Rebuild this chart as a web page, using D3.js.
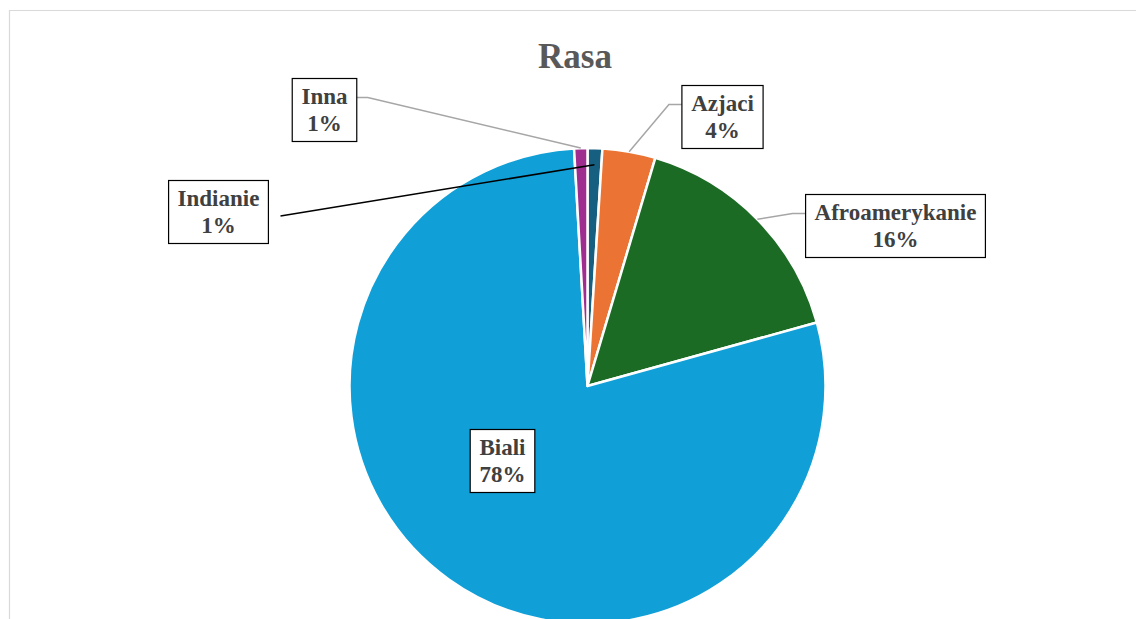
<!DOCTYPE html>
<html>
<head>
<meta charset="utf-8">
<script src="https://cdn.jsdelivr.net/npm/d3@7"></script>
<style>
  html, body { margin: 0; padding: 0; background: #ffffff; }
  svg { display: block; }
</style>
</head>
<body>
<svg id="chart" width="1136" height="619" font-family="'Liberation Serif', 'Times New Roman', Times, serif" font-weight="bold"></svg>
<script>
// Population share by race (percent), in drawing order clockwise from 12 o'clock
const categories = ["Indianie", "Azjaci", "Afroamerykanie", "Biali", "Inna"];
const shares = [1.0, 3.6, 16.1, 78.4, 0.9];
const sliceColors = ["#175f80", "#eb7333", "#1b6b25", "#119fd7", "#9e2d8f"];
const chartTitle = "Rasa";

const W = 1136, H = 619;
const cx = 587.5, cy = 386, R = 238;

// Label box placement, as offsets from the pie centre, plus leader-line styling
const labelLayout = {
  "Indianie":       { dx: -369, dy: -174, line: "#000000", elbow: null,  lineStart: { dx: 62, dy: 4 }, endR: 0.93 },
  "Azjaci":         { dx: 135,  dy: -269, line: "#a6a6a6", elbow: "left", endR: 1.0 },
  "Afroamerykanie": { dx: 308,  dy: -160, line: "#a6a6a6", elbow: "left", endR: 1.0 },
  "Biali":          { dx: -85,  dy: 75,   line: null },
  "Inna":           { dx: -263, dy: -276, line: "#a6a6a6", elbow: "right", endR: 1.0 }
};

const data = categories.map((c, i) => ({ name: c, value: shares[i], color: sliceColors[i] }));
const total = d3.sum(shares);

const svg = d3.select("#chart");

// Chart area border
svg.append("path")
  .attr("d", `M9.5,${H + 2} L9.5,10.5 L${W + 2},10.5`)
  .attr("fill", "none")
  .attr("stroke", "#d9d9d9")
  .attr("stroke-width", 1.2);

// Title
svg.append("text")
  .attr("x", 575)
  .attr("y", 68)
  .attr("text-anchor", "middle")
  .attr("font-size", 35)
  .attr("fill", "#595959")
  .text(chartTitle);

const pie = d3.pie().sort(null).value(d => d.value).startAngle(0).endAngle(2 * Math.PI);
const arcs = pie(data);
const arc = d3.arc().innerRadius(0).outerRadius(R);

const g = svg.append("g").attr("transform", `translate(${cx},${cy})`);

g.selectAll("path.slice")
  .data(arcs)
  .join("path")
  .attr("class", "slice")
  .attr("d", arc)
  .attr("fill", d => d.data.color)
  .attr("stroke", "#ffffff")
  .attr("stroke-width", 2.5)
  .attr("stroke-linejoin", "round");

// Data labels with leader lines
const fontSize = 23, lineH = 27, padX = 9, padY = 4;
const labelsG = svg.append("g");

arcs.forEach(a => {
  const name = a.data.name;
  const L = labelLayout[name];
  const bx = cx + L.dx, by = cy + L.dy;
  const pct = Math.round(a.data.value / total * 100) + "%";

  const lg = labelsG.append("g");
  const rect = lg.append("rect").attr("fill", "#ffffff").attr("stroke", "#000000").attr("stroke-width", 1.2);
  const t = lg.append("text")
    .attr("text-anchor", "middle")
    .attr("font-size", fontSize)
    .attr("fill", "#404040");
  t.append("tspan").attr("x", bx).attr("y", by - lineH / 2 + 7).text(name);
  t.append("tspan").attr("x", bx).attr("y", by + lineH / 2 + 7).text(pct);

  const bb = t.node().getBBox();
  const w = bb.width + 2 * padX, h = 2 * lineH + 2 * padY + 1;
  rect.attr("x", bx - w / 2).attr("y", by - h / 2).attr("width", w).attr("height", h);

  if (L.line) {
    const mid = (a.startAngle + a.endAngle) / 2;
    const ex = cx + L.endR * R * Math.sin(mid);
    const ey = cy - L.endR * R * Math.cos(mid);
    let pts;
    if (L.elbow === "left") {
      const sx = bx - w / 2, sy = by - h / 2 + 19;
      pts = [[sx, sy], [sx - 13, sy], [ex, ey]];
    } else if (L.elbow === "right") {
      const sx = bx + w / 2, sy = by - h / 2 + 19;
      pts = [[sx, sy], [sx + 11, sy], [ex, ey]];
    } else {
      pts = [[bx + L.lineStart.dx, by + L.lineStart.dy], [ex, ey]];
    }
    labelsG.insert("path", ":first-child")
      .attr("d", d3.line()(pts))
      .attr("fill", "none")
      .attr("stroke", L.line)
      .attr("stroke-width", 1.5);
  }
});
</script>
</body>
</html>
